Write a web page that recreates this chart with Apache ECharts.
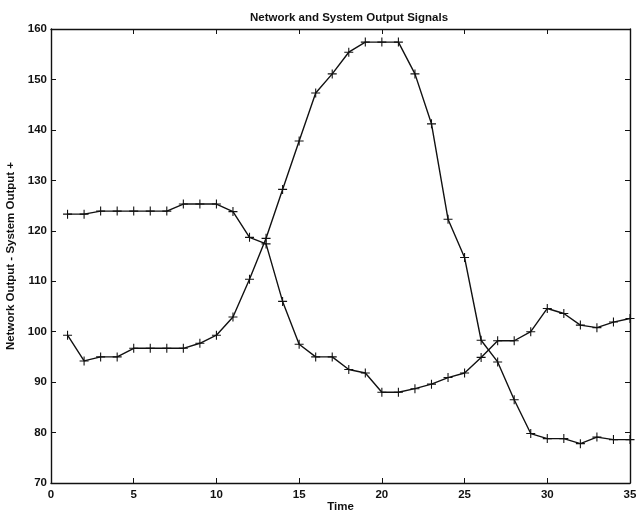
<!DOCTYPE html>
<html>
<head>
<meta charset="utf-8">
<script src="https://cdn.jsdelivr.net/npm/echarts@6/dist/echarts.min.js"></script>
<style>
  html, body { margin: 0; padding: 0; background: #fff; }
  #chart { width: 637px; height: 515px; }
</style>
</head>
<body>
<div id="chart"></div>
<script>
// Sample times
const time = [1,2,3,4,5,6,7,8,9,10,11,12,13,14,15,16,17,18,19,20,21,22,23,24,25,26,27,28,29,30,31,32,33,34,35];

// First output signal
const outputA = [123.3,123.3,123.9,123.9,123.9,123.9,123.9,125.3,125.3,125.3,123.8,118.7,117.4,106.0,97.5,95.0,95.0,92.5,91.8,88.0,88.0,88.7,89.6,90.9,91.8,94.9,98.2,98.2,100.0,104.6,103.6,101.3,100.8,101.9,102.6];

// Second output signal
const outputB = [99.3,94.2,95.0,95.0,96.7,96.7,96.7,96.7,97.7,99.3,102.9,110.4,118.5,128.2,137.8,147.3,151.1,155.4,157.4,157.4,157.4,151.1,141.2,122.3,114.7,98.3,94.0,86.5,79.8,78.8,78.8,77.8,79.1,78.6,78.6];

const font = 'Liberation Sans, Arial, Helvetica, sans-serif';
const plus = 'path://M4.4,0H5.6V4.4H10V5.6H5.6V10H4.4V5.6H0V4.4H4.4Z';

function pairs(ys) { return time.map((t, i) => [t, ys[i]]); }

function series(ys) {
  return {
    type: 'line',
    data: pairs(ys),
    symbol: plus,
    symbolSize: 9,
    showAllSymbol: true,
    lineStyle: { color: '#111', width: 1.4 },
    itemStyle: { color: '#111' },
    animation: false,
    silent: true
  };
}

const tickCommon = { show: true, inside: true, length: 5, lineStyle: { color: '#111', width: 1 } };
const lineCommon = { show: true, onZero: false, lineStyle: { color: '#111', width: 1.4 } };
const labelStyle = { fontFamily: font, fontSize: 11.5, fontWeight: 'bold', color: '#111' };

const chart = echarts.init(document.getElementById('chart'));
chart.setOption({
  backgroundColor: '#fff',
  animation: false,
  title: {
    text: 'Network and System Output Signals',
    left: 344, top: 7, textAlign: 'center',
    textStyle: Object.assign({}, labelStyle)
  },
  grid: { left: 51, right: 7, top: 29, bottom: 32, outerBoundsMode: 'none' },
  xAxis: [
    {
      type: 'value', min: 0, max: 35, interval: 5, position: 'bottom',
      name: 'Time', nameLocation: 'middle', nameGap: 18, nameMoveOverlap: false,
      nameTextStyle: Object.assign({ verticalAlign: 'top' }, labelStyle),
      axisLine: lineCommon, axisTick: tickCommon,
      axisLabel: Object.assign({ margin: 6 }, labelStyle),
      splitLine: { show: false }
    },
    {
      type: 'value', min: 0, max: 35, interval: 5, position: 'top',
      axisLine: lineCommon, axisTick: tickCommon,
      axisLabel: { show: false }, splitLine: { show: false }
    }
  ],
  yAxis: [
    {
      type: 'value', min: 70, max: 160, interval: 10, position: 'left',
      name: 'Network Output - System Output +', nameLocation: 'middle', nameGap: 32,
      nameTextStyle: Object.assign({}, labelStyle),
      axisLine: lineCommon, axisTick: tickCommon,
      axisLabel: Object.assign({ margin: 4 }, labelStyle),
      splitLine: { show: false }
    },
    {
      type: 'value', min: 70, max: 160, interval: 10, position: 'right',
      axisLine: lineCommon, axisTick: tickCommon,
      axisLabel: { show: false }, splitLine: { show: false }
    }
  ],
  series: [series(outputA), series(outputB)]
});
</script>
</body>
</html>
